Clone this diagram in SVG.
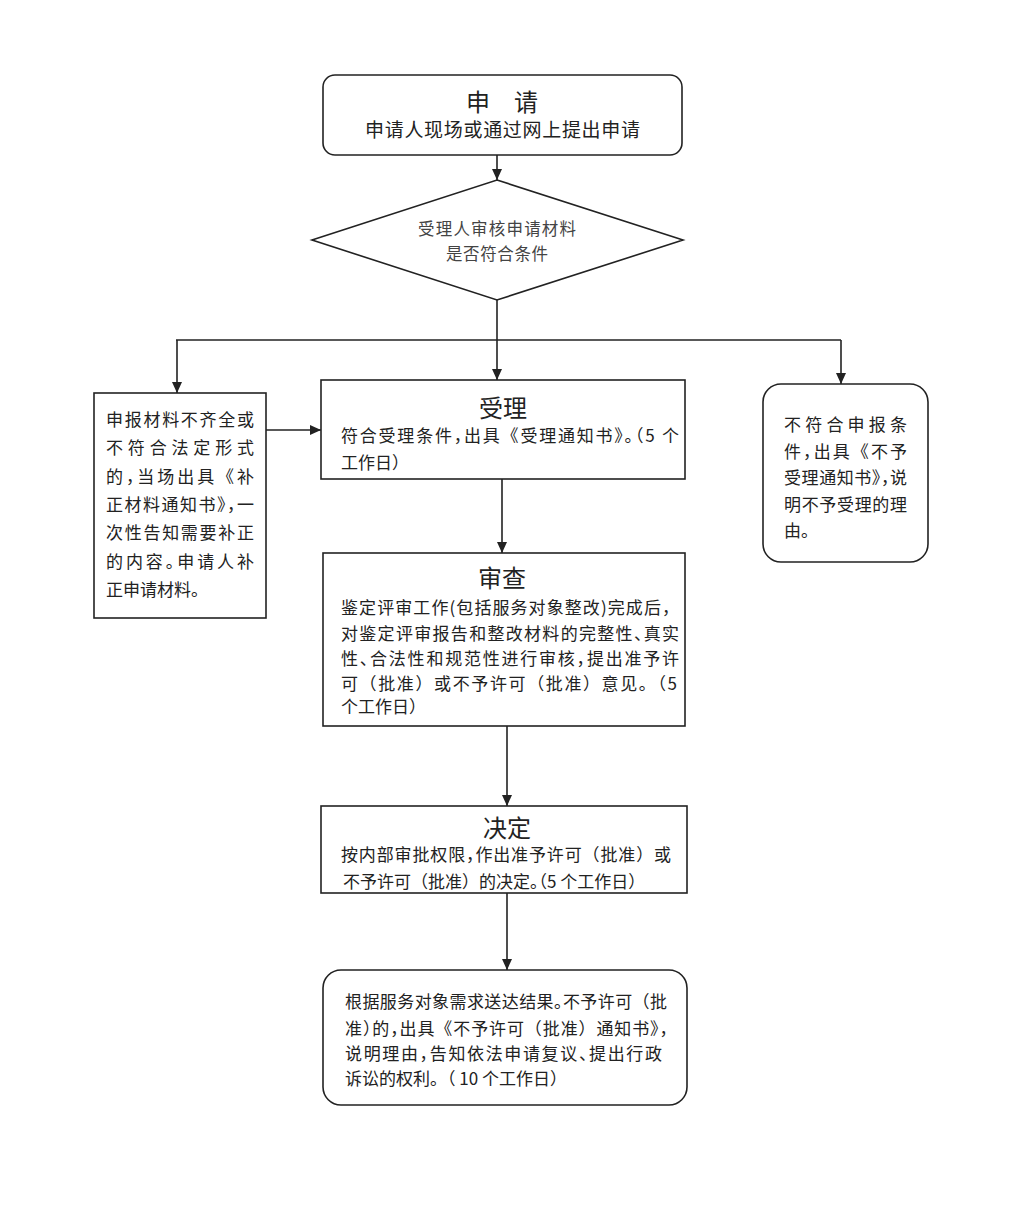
<svg xmlns="http://www.w3.org/2000/svg" width="1035" height="1212" viewBox="0 0 1035 1212">
<style>
.box{fill:#fff;stroke:#222;stroke-width:1.6}
.ln{fill:none;stroke:#222;stroke-width:1.6}
text{font-family:"Noto Sans CJK SC","Noto Sans",sans-serif;fill:#222;dominant-baseline:central}
.t{font-size:24px;text-anchor:middle}
.b{font-size:17px}
.d{font-size:16.5px;fill:#444;text-anchor:middle}
.h{font-feature-settings:"halt"}
</style>
<defs>
<marker id="arr" markerUnits="userSpaceOnUse" markerWidth="12" markerHeight="12" refX="11" refY="6" orient="auto">
<path d="M0,1 L11,6 L0,11 Z" fill="#222"/>
</marker>
</defs>
<rect width="1035" height="1212" fill="#fff"/>
<g id="connectors">
<line class="ln" x1="497" y1="155" x2="497" y2="180" marker-end="url(#arr)"/>
<polyline class="ln" points="497,300 497,340"/>
<line class="ln" x1="176" y1="340" x2="841" y2="340"/>
<line class="ln" x1="177" y1="340" x2="177" y2="393" marker-end="url(#arr)"/>
<line class="ln" x1="497" y1="340" x2="497" y2="380" marker-end="url(#arr)"/>
<line class="ln" x1="841" y1="340" x2="841" y2="384" marker-end="url(#arr)"/>
<line class="ln" x1="266" y1="430" x2="321" y2="430" marker-end="url(#arr)"/>
<line class="ln" x1="502" y1="479" x2="502" y2="553" marker-end="url(#arr)"/>
<line class="ln" x1="507" y1="726" x2="507" y2="806" marker-end="url(#arr)"/>
<line class="ln" x1="507" y1="893" x2="507" y2="970" marker-end="url(#arr)"/>
</g>
<g id="apply">
<rect class="box" x="323" y="75" width="359" height="80" rx="12"/>
<text class="t" x="502" y="100">申　请</text>
<text class="b" x="365" y="128" style="font-size:19px" textLength="275" lengthAdjust="spacing">申请人现场或通过网上提出申请</text>
</g>
<g id="check">
<polygon class="box" points="497,180 683,240 497,300 312,240"/>
<text class="d" x="497" y="228" textLength="158" lengthAdjust="spacing">受理人审核申请材料</text>
<text class="d" x="497" y="253" textLength="102" lengthAdjust="spacing">是否符合条件</text>
</g>
<g id="supplement">
<rect class="box" x="94" y="393" width="172" height="225"/>
<text class="b" x="106" y="418" textLength="148" lengthAdjust="spacing">申报材料不齐全或</text>
<text class="b" x="106" y="446" textLength="148" lengthAdjust="spacing">不符合法定形式</text>
<text class="b" x="106" y="475" textLength="148" lengthAdjust="spacing">的<tspan class="h">，</tspan>当场出具《补</text>
<text class="b" x="106" y="503" textLength="148" lengthAdjust="spacing">正材料通知书<tspan class="h">》，</tspan>一</text>
<text class="b" x="106" y="531" textLength="148" lengthAdjust="spacing">次性告知需要补正</text>
<text class="b" x="106" y="560" textLength="148" lengthAdjust="spacing">的内容<tspan class="h">。</tspan>申请人补</text>
<text class="b" x="106" y="588">正申请材料。</text>
</g>
<g id="accept">
<rect class="box" x="321" y="380" width="364" height="99"/>
<text class="t" x="503" y="406">受理</text>
<text class="b" x="341" y="434" textLength="338" lengthAdjust="spacing">符合受理条件<tspan class="h">，</tspan>出具《受理通知书<tspan class="h">》。（</tspan>5 个</text>
<text class="b" x="341" y="461">工作日）</text>
</g>
<g id="reject">
<rect class="box" x="763" y="384" width="165" height="178" rx="18"/>
<text class="b" x="784" y="423" textLength="123" lengthAdjust="spacing">不符合申报条</text>
<text class="b" x="784" y="450" textLength="123" lengthAdjust="spacing">件<tspan class="h">，</tspan>出具《不予</text>
<text class="b" x="784" y="476" textLength="123" lengthAdjust="spacing">受理通知书<tspan class="h">》，</tspan>说</text>
<text class="b" x="784" y="503" textLength="123" lengthAdjust="spacing">明不予受理的理</text>
<text class="b" x="784" y="529">由。</text>
</g>
<g id="review">
<rect class="box" x="323" y="553" width="362" height="173"/>
<text class="t" x="502" y="576">审查</text>
<text class="b" x="341" y="606" textLength="338" lengthAdjust="spacing">鉴定评审工作(包括服务对象整改)完成后，</text>
<text class="b" x="341" y="632" textLength="338" lengthAdjust="spacing">对鉴定评审报告和整改材料的完整性<tspan class="h">、</tspan>真实</text>
<text class="b" x="341" y="657" textLength="338" lengthAdjust="spacing">性<tspan class="h">、</tspan>合法性和规范性进行审核<tspan class="h">，</tspan>提出准予许</text>
<text class="b" x="341" y="682" textLength="336" lengthAdjust="spacing">可（批准）或不予许可（批准）意见。（5</text>
<text class="b" x="341" y="705">个工作日）</text>
</g>
<g id="decide">
<rect class="box" x="321" y="806" width="366" height="87"/>
<text class="t" x="507" y="826">决定</text>
<text class="b" x="341" y="853" textLength="330" lengthAdjust="spacing">按内部审批权限<tspan class="h">，</tspan>作出准予许可（批准）或</text>
<text class="b" x="343" y="880">不予许可（批准）的决定<tspan class="h">。（</tspan>5 个工作日）</text>
</g>
<g id="deliver">
<rect class="box" x="323" y="970" width="364" height="135" rx="18"/>
<text class="b" x="345" y="1000" textLength="322" lengthAdjust="spacing">根据服务对象需求送达结果<tspan class="h">。</tspan>不予许可（批</text>
<text class="b" x="345" y="1027" textLength="323" lengthAdjust="spacing">准<tspan class="h">）</tspan>的<tspan class="h">，</tspan>出具《不予许可（批准）通知书<tspan class="h">》，</tspan></text>
<text class="b" x="345" y="1052" textLength="317" lengthAdjust="spacing">说明理由<tspan class="h">，</tspan>告知依法申请复议<tspan class="h">、</tspan>提出行政</text>
<text class="b" x="345" y="1077">诉讼的权利。（ 10 个工作日）</text>
</g>
</svg>
